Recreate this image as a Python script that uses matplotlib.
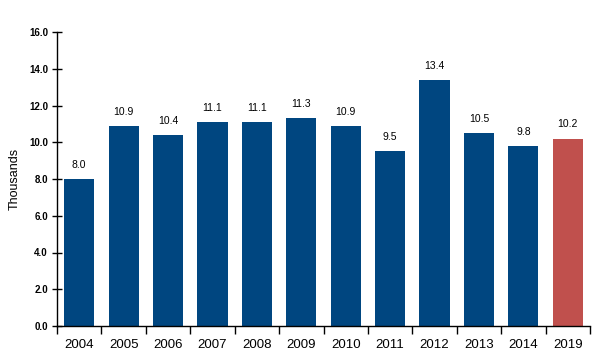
import matplotlib
matplotlib.use("Agg")
import matplotlib.pyplot as plt
from matplotlib import font_manager
import numpy as np

years = ["2004", "2005", "2006", "2007", "2008", "2009", "2010", "2011", "2012", "2013", "2014", "2019"]
values = [8.0, 10.9, 10.4, 11.1, 11.1, 11.3, 10.9, 9.5, 13.4, 10.5, 9.8, 10.2]
colors = ["#004680"] * 11 + ["#C0504D"]
yticks = [0, 2, 4, 6, 8, 10, 12, 14, 16]

names = {f.name for f in font_manager.fontManager.ttflist}
tickfam = "Liberation Sans Narrow" if "Liberation Sans Narrow" in names else "Liberation Sans"

fig = plt.figure(figsize=(5.96, 3.56), dpi=100)
ax = fig.add_axes([57/596, 1-326/356, (590-57)/596, (326-32)/356])
x = np.arange(len(years))
ax.bar(x, values, width=0.68, color=colors)
for xi, v in zip(x, values):
    ax.text(xi, v + 0.5, f"{v:.1f}", ha="center", va="bottom", fontsize=7.5, family="Liberation Sans")

ax.set_xlim(-0.5, len(years) - 0.5)
ax.set_ylim(0, 16)
ax.set_yticks(yticks)
ax.set_yticklabels([f"{t:.1f}" for t in yticks], fontsize=7, fontweight="bold", family=tickfam)
ax.tick_params(axis="y", direction="inout", length=7, width=1, pad=3)
ax.set_xticks(x)
ax.set_xticklabels(years, fontsize=9.5, family="Liberation Sans")
ax.tick_params(axis="x", length=0, pad=9)
ax.set_xticks(np.arange(-0.5, len(years), 1), minor=True)
ax.tick_params(axis="x", which="minor", direction="out", length=6, width=1)
for s in ["top", "right"]:
    ax.spines[s].set_visible(False)
ax.spines["left"].set_linewidth(1)
ax.spines["bottom"].set_linewidth(1)
ax.set_ylabel("Thousands", fontsize=9, family="Liberation Sans", labelpad=6)
fig.savefig("out.png", dpi=100)
